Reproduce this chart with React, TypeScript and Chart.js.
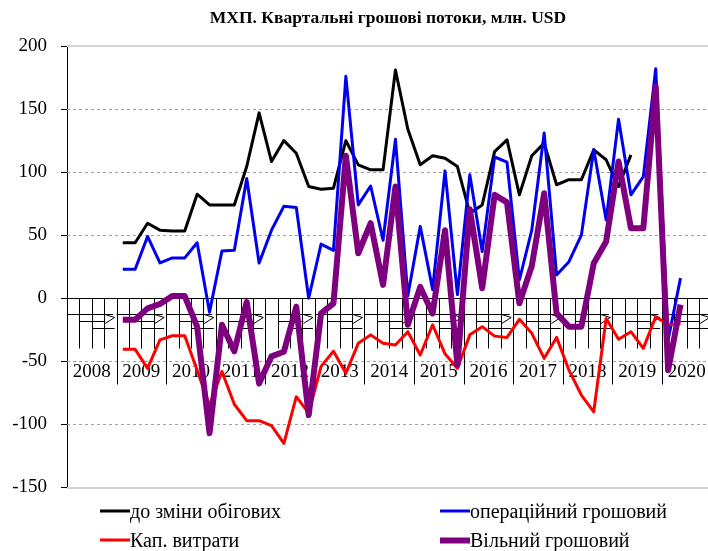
import React, { useEffect, useRef } from "react";
import { Chart, registerables } from "chart.js";

Chart.register(...registerables);

const years: string[] = ["2008", "2009", "2010", "2011", "2012", "2013", "2014", "2015", "2016", "2017", "2018", "2019", "2020"];
const quarterNames: string[] = ["I", "II", "III", "IV"];
const categories: string[] = years.flatMap((yr) => quarterNames.map((q) => `${yr} ${q}`));

const yTicks: number[] = [-150, -100, -50, 0, 50, 100, 150, 200];

// values start at 2009 Q1 (index 4)
const beforeWC: number[] = [44, 44, 59.5, 54, 53.4, 53.4, 82.5, 74, 74, 74, 104.5, 147, 108.4, 125, 115, 88.6, 86.5, 87.3, 125, 105.8, 101.8, 101.8, 181, 134, 105.8, 113, 111, 104.4, 67.5, 74, 116.3, 125.6, 82, 113, 123, 90, 94, 94, 117.7, 109.8, 88.6, 113.7];
const operating: number[] = [23, 23, 49, 28, 32, 32, 44, -11, 37.5, 38, 95, 28, 54, 73, 72, 0, 43, 38, 176, 74, 89, 46, 126, 2, 57, 7, 101, 3, 98, 37, 112, 108, 14.5, 54, 131, 18.5, 29, 50, 118, 62, 142, 82, 96.5, 182, -33, 16];
const capex: number[] = [-40.5, -40.5, -55.6, -33, -29.7, -29.7, -57, -85, -58, -84, -97, -97, -101, -115, -78, -91, -54, -42, -59.5, -35.7, -29, -35.7, -37, -26.5, -45, -21, -44, -55.6, -29, -22.5, -30, -31, -16.7, -27.8, -47.6, -31, -57, -76.7, -90, -16, -32.5, -26.5, -39.7, -14.6, -21, -20];
const freeCF: number[] = [-17, -17, -8, -4.5, 1.8, 1.8, -22.5, -107, -21, -42, -3, -67.5, -46, -42.4, -6.7, -92.6, -12, -4, 113, 35.7, 59.5, 10.6, 88.6, -21, 9, -12, 54, -53, 70.6, 8, 82, 76, -4, 25.6, 83.3, -12, -22.5, -22.5, 27.8, 45, 108.4, 55.6, 55.6, 168, -57, -5];

const START = 4;
function place(vals: number[]): (number | null)[] {
  return categories.map((_, i) => (i >= START && i - START < vals.length ? vals[i - START] : null));
}

const seriesLabels = ["до зміни обігових", "операційний грошовий", "Кап. витрати", "Вільний грошовий"];
const seriesColors = ["#000000", "#0000f0", "#ff0000", "#7f007f"];
const seriesWidths = [3, 3, 3, 6];

const FONT = '"Liberation Serif", "Times New Roman", serif';

const axisPlugin = {
  id: "customAxis",
  beforeDatasetsDraw(chart: any) {
    const { ctx, chartArea: a, scales } = chart;
    const y = scales.y;
    ctx.save();
    ctx.strokeStyle = "#a0a0a0";
    ctx.lineWidth = 1;
    ctx.setLineDash([3, 3]);
    for (const v of yTicks) {
      if (v === 0 || v === 200 || v === -150) continue;
      const py = Math.round(y.getPixelForValue(v)) + 0.5;
      ctx.beginPath();
      ctx.moveTo(a.left, py);
      ctx.lineTo(a.right, py);
      ctx.stroke();
    }
    ctx.setLineDash([]);
    ctx.strokeStyle = "#d4d4d4";
    ctx.lineWidth = 2;
    for (const v of [200, -150]) {
      const py = Math.round(y.getPixelForValue(v));
      ctx.beginPath();
      ctx.moveTo(a.left, py);
      ctx.lineTo(a.right + 10, py);
      ctx.stroke();
    }
    const y0 = Math.round(y.getPixelForValue(0)) + 0.5;
    ctx.strokeStyle = "#000";
    ctx.lineWidth = 1;
    ctx.beginPath();
    ctx.moveTo(a.left, y0);
    ctx.lineTo(a.right + 10, y0);
    ctx.stroke();
    const n = categories.length;
    const q = (a.right - a.left) / n;
    for (let i = 1; i < n; i++) {
      const xx = Math.round(a.left + i * q) + 0.5;
      const len = i % 4 === 0 ? 86 : 50;
      ctx.beginPath();
      ctx.moveTo(xx, y0);
      ctx.lineTo(xx, y0 + len);
      ctx.stroke();
    }
    ctx.font = `19px ${FONT}`;
    ctx.fillStyle = "#000";
    ctx.textAlign = "center";
    ctx.textBaseline = "middle";
    years.forEach((yr, k) => {
      const xs = a.left + k * 4 * q;
      const w = 4 * q;
      const l1 = Math.round(y0 + 15) + 0.5;
      const l2 = Math.round(y0 + 22) + 0.5;
      const l3 = Math.round(y0 + 29) + 0.5;
      ctx.beginPath();
      ctx.moveTo(xs, l1);
      ctx.lineTo(xs + 0.93 * w, l1);
      ctx.moveTo(xs + 0.77 * w, l1);
      ctx.lineTo(xs + 0.96 * w, y0 + 19);
      ctx.lineTo(xs + 0.77 * w, l2 + 2);
      ctx.moveTo(xs + 0.26 * w, l2);
      ctx.lineTo(xs + 0.77 * w, l2);
      ctx.moveTo(xs + 0.51 * w, l3);
      ctx.lineTo(xs + 0.96 * w, l3);
      ctx.stroke();
      ctx.fillText(yr, xs + w / 2, y0 + 74);
    });
    ctx.restore();
  },
};

export default function App() {
  const canvasRef = useRef<HTMLCanvasElement | null>(null);

  useEffect(() => {
    if (!canvasRef.current) return;
    const datasets = [beforeWC, operating, capex, freeCF].map((vals, i) => ({
      label: seriesLabels[i],
      data: place(vals),
      borderColor: seriesColors[i],
      backgroundColor: seriesColors[i],
      borderWidth: seriesWidths[i],
      pointRadius: 0,
      tension: 0,
      fill: false,
      borderJoinStyle: "round" as const,
      borderCapStyle: "butt" as const,
      order: 3 - i,
    }));
    const chart = new Chart(canvasRef.current, {
      type: "line",
      data: { labels: categories, datasets },
      options: {
        animation: false,
        responsive: false,
        maintainAspectRatio: false,
        devicePixelRatio: 1,
        layout: { padding: { top: 46, bottom: 63.5, left: 0, right: 4.5 } },
        plugins: { legend: { display: false }, tooltip: { enabled: false }, title: { display: false } },
        scales: {
          x: { type: "category", display: false, offset: true },
          y: {
            min: -150,
            max: 200,
            afterFit: (s: any) => {
              s.width = 67;
            },
            afterBuildTicks: (s: any) => {
              s.ticks = yTicks.map((v) => ({ value: v }));
            },
            ticks: { color: "#000", font: { family: FONT, size: 19 }, padding: 14 },
            grid: { drawOnChartArea: false, drawTicks: true, tickLength: 6, color: "#000" },
            border: { display: true, color: "#000", width: 1 },
          },
        },
      },
      plugins: [axisPlugin],
    });
    return () => chart.destroy();
  }, []);

  const legendItems = [
    { i: 0, left: 100, top: 511 },
    { i: 1, left: 440, top: 511 },
    { i: 2, left: 100, top: 540 },
    { i: 3, left: 440, top: 540 },
  ];

  return (
    <div style={{ position: "fixed", left: 0, top: 0, width: 708, height: 551, overflow: "hidden", background: "#fff" }}>
      <canvas ref={canvasRef} width={716} height={551} style={{ position: "absolute", left: 0, top: 0, width: 716, height: 551 }} />
      <div
        style={{
          position: "absolute",
          left: 388,
          top: 17,
          transform: "translate(-50%, -50%)",
          whiteSpace: "nowrap",
          fontFamily: FONT,
          fontWeight: "bold",
          fontSize: 17.5,
          color: "#000",
        }}
      >
        МХП. Квартальні грошові потоки, млн. USD
      </div>
      {legendItems.map((it) => (
        <div
          key={it.i}
          style={{
            position: "absolute",
            left: it.left,
            top: it.top,
            transform: "translateY(-50%)",
            display: "flex",
            alignItems: "center",
            whiteSpace: "nowrap",
            fontFamily: FONT,
            fontSize: 20,
            color: "#000",
          }}
        >
          <span style={{ display: "inline-block", width: 30, height: seriesWidths[it.i], background: seriesColors[it.i] }} />
          <span>{seriesLabels[it.i]}</span>
        </div>
      ))}
    </div>
  );
}
